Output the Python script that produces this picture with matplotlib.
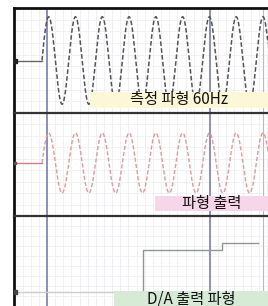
import numpy as np
import matplotlib
matplotlib.use('Agg')
import matplotlib.pyplot as plt
from matplotlib.patches import Rectangle

plt.rcParams['font.family'] = ['Noto Sans CJK KR', 'DejaVu Sans']

# data (time in ms)
FREQ_HZ = 60
T_START = 17.4          # wave onset
T_END = 158.0
MEAS_AMPL = 1.0         # measured waveform amplitude
OUT_AMPL = 0.70         # output waveform amplitude
cursor_times = [20.5, 121.9]
da_times = [80.2, 80.2, 129.4, 129.4, 151.7]
da_levels = [0.0, 1.0, 1.0, 1.17, 1.17]
labels = ['측정 파형 60Hz', '파형 출력', 'D/A 출력 파형']
label_colors = ['#fcf7d6', '#f6d6e8', '#d6ead6']

t = np.linspace(T_START, T_END, 2000)
phase = 2 * np.pi * FREQ_HZ * (t - T_START) / 1000.0
meas = MEAS_AMPL * np.sin(phase)
out = OUT_AMPL * np.sin(phase)

W, H = 268, 306
fig = plt.figure(figsize=(W / 100, H / 100), dpi=100)
fig.patch.set_facecolor('white')

def px_axes(top, bottom, left=14, right=268):
    return fig.add_axes([left / W, 1 - bottom / H, (right - left) / W, (bottom - top) / H])

ax1 = px_axes(8, 113)
ax2 = px_axes(113, 216)
ax3 = px_axes(216, 306)
ylims = [(-1.2, 1.2), (-1.235, 1.165), (-0.333, 1.81)]

for ax, (lo, hi) in zip((ax1, ax2, ax3), ylims):
    ax.set_xlim(0, T_END)
    ax.set_ylim(lo, hi)
    ax.set_xticks([])
    ax.set_yticks([])
    ax.spines['right'].set_visible(False)
    ax.spines['bottom'].set_visible(False)
    ax.spines['left'].set_color('#111111')
    ax.spines['left'].set_linewidth(2)
    ax.spines['top'].set_color('#333333')
    ax.spines['top'].set_linewidth(1.6)
    # faint grid
    for g in np.arange(cursor_times[0] - 8 * 5.07, T_END, 5.07):
        ax.axvline(g, color='#ededf2', lw=0.6, zorder=0)
    for g in np.arange(lo, hi, (hi - lo) / 9):
        ax.axhline(g, color='#f0f0f3', lw=0.6, zorder=0)
    ax.axvline(154.9, color='#bbbbbb', lw=0.8, zorder=1)
    for c in cursor_times:
        ax.axvline(c, color='#8c8cc8', lw=1.4, zorder=1)
ax1.spines['top'].set_color('#111111')
ax1.spines['top'].set_linewidth(2)

ax1.plot([0, T_START], [0, 0], color='#666666', lw=1.0, zorder=3)
ax1.plot(t, meas, color='#555555', lw=1.1, ls=(0, (3, 1.5)), zorder=3)
ax1.plot([0.8], [0], 's', color='#222222', ms=2.5, zorder=4)
ax2.plot([0, T_START], [0, 0], color='#d08080', lw=1.0, zorder=3)
ax2.plot(t, out, color='#e29a9a', lw=1.0, ls=(0, (3, 1.5)), zorder=3)
ax2.plot([0.8], [0], 's', color='#555555', ms=2.0, zorder=4)
ax3.axhline(0, color='#cccccc', lw=1.0, zorder=1)
ax3.plot(da_times, da_levels, color='#8a9a8a', lw=1.0, zorder=3)
ax3.plot([0.8], [0], 's', color='#444444', ms=2.5, zorder=4)

# label boxes (pixel positions)
boxes = [(90, 92, 108), (155, 196, 211), (114, 291, 306)]
for (x0, y0, y1), txt, col in zip(boxes, labels, label_colors):
    fig.patches.append(Rectangle((x0 / W, 1 - y1 / H), (W - x0) / W, (y1 - y0) / H,
                                 transform=fig.transFigure, facecolor=col,
                                 edgecolor='none', zorder=5))
    fig.text((x0 + W) / 2 / W, 1 - (y0 + y1) / 2 / H, txt, ha='center', va='center',
             fontsize=11, color='#111111', zorder=6)

fig.savefig('out.png', dpi=100)
